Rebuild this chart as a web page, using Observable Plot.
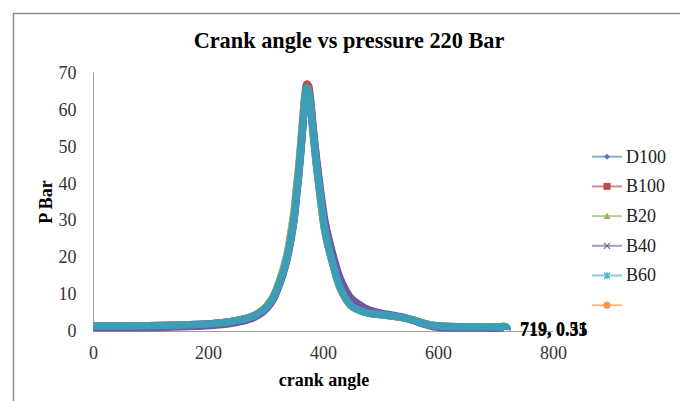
<!DOCTYPE html>
<html>
<head>
<meta charset="utf-8">
<script src="https://cdn.jsdelivr.net/npm/d3@7"></script>
<script src="https://cdn.jsdelivr.net/npm/@observablehq/plot@0.6"></script>
<style>
  html, body { margin: 0; padding: 0; background: #fff; }
  #chart { position: relative; width: 680px; height: 401px; overflow: hidden; }
  #chart > svg { position: absolute; left: 0; top: 0; }
</style>
</head>
<body>
<div id="chart"></div>
<script>
// Crank angle (degrees) sampling points shared by every fuel blend
const crankAngle = [0, 60, 120, 180, 220, 250, 275, 295, 310, 320, 330, 338, 344, 349, 353, 357, 361, 365, 368, 371, 374, 377, 382, 388, 395, 403, 416, 430, 448, 465, 480, 500, 520, 540, 557, 575, 592, 616, 650, 700, 718, 719];

// Cylinder pressure (bar) at injection pressure 220 bar
const pD100 = [1.5, 1.5, 1.6, 1.9, 2.3, 3.0, 4.0, 5.8, 8.5, 11.8, 16.2, 21, 26, 31, 37, 43, 50, 58, 62.5, 65.5, 64.8, 61.8, 53.8, 44.8, 35.8, 26.8, 18.4, 11.4, 7, 5.6, 4.9, 4.6, 4.2, 3.7, 3.0, 2.1, 1.6, 1.35, 1.3, 1.25, 1.2, 0.35];
const pB100 = [1.5, 1.5, 1.6, 1.9, 2.3, 3.0, 4.0, 5.9, 8.6, 12, 16.5, 21.5, 27, 32, 38, 44, 51, 59, 64.5, 67, 66.5, 63.5, 55, 46, 37, 27.5, 19, 12, 7.2, 5.7, 5.0, 4.6, 4.2, 3.7, 3.1, 2.2, 1.6, 1.35, 1.3, 1.25, 1.2, 0.45];
const pB20 = [1.4, 1.4, 1.5, 1.8, 2.2, 2.9, 3.9, 5.9, 8.8, 12.3, 17, 22, 27.5, 33, 39, 45, 52, 59.5, 63.5, 65.5, 64.5, 61.5, 53.5, 44.5, 35.5, 26.5, 18.5, 11.5, 7, 5.6, 4.9, 4.6, 4.2, 3.7, 3.0, 2.1, 1.6, 1.35, 1.3, 1.25, 1.2, 0.45];
const pB40 = [1.0, 1.0, 1.1, 1.4, 1.8, 2.5, 3.5, 5.3, 8.0, 11.3, 15.7, 20.5, 25.5, 30.5, 36.5, 42.5, 49.5, 57.5, 62.5, 65.5, 65, 62.5, 55, 46.5, 38, 29.5, 21, 14, 9, 7, 5.8, 5.0, 4.4, 3.8, 3.0, 2.0, 1.3, 1.0, 0.95, 0.9, 0.85, 0.51];
const pB60 = [1.5, 1.5, 1.6, 1.9, 2.3, 3.0, 4.0, 5.8, 8.5, 11.8, 16.2, 21, 26, 31, 37, 43, 50, 58, 63, 66, 65, 62, 54, 45, 36, 27, 18.5, 11.5, 7, 5.6, 4.9, 4.6, 4.2, 3.7, 3.0, 2.1, 1.6, 1.35, 1.3, 1.25, 1.2, 0.45];

const seriesNames = ["D100", "B100", "B20", "B40", "B60"];
const seriesPressure = [pD100, pB100, pB20, pB40, pB60];
const seriesColors = ["#4A7EBB", "#BE4B48", "#98B954", "#7356A0", "#3E9DB6"];
// Legend also lists a sixth, unnamed series
const legendNames = ["D100", "B100", "B20", "B40", "B60", ""];
const legendColors = ["#4A7EBB", "#BE4B48", "#98B954", "#7D60A0", "#4BACC6", "#F79646"];
const legendSymbols = ["diamond", "square", "triangle", "cross", "asterisk", "circle"];
// Series whose final point carries a value label
const labelledSeries = ["D100", "B40"];

const xTicks = [0, 200, 400, 600, 800];
const yTicks = [0, 10, 20, 30, 40, 50, 60, 70];

const rows = seriesNames.flatMap((name, i) =>
  crankAngle.map((a, j) => ({series: name, angle: a, p: seriesPressure[i][j]}))
);
const endRows = labelledSeries.map(name => {
  const i = seriesNames.indexOf(name);
  const j = crankAngle.length - 1;
  return {series: name, angle: crankAngle[j], p: seriesPressure[i][j]};
});

const W = 680, H = 401;
const serif = "'Liberation Serif', 'Times New Roman', serif";

const plot = Plot.plot({
  width: W,
  height: H,
  marginLeft: 93,
  marginRight: 127,
  marginTop: 72.5,
  marginBottom: 70,
  style: {fontFamily: serif, fontSize: "18px", color: "#333", background: "transparent"},
  x: {domain: [0, 800]},
  y: {domain: [0, 70]},
  color: {domain: seriesNames, range: seriesColors},
  marks: [
    Plot.axisX({ticks: xTicks, tickSize: 0, tickPadding: 15, label: null, fontSize: 18}),
    Plot.axisY({ticks: yTicks, tickSize: 0, tickPadding: 17, label: null, fontSize: 18}),
    Plot.ruleY([0], {stroke: "#a0a0a0", strokeWidth: 1}),
    Plot.ruleX([0], {stroke: "#a0a0a0", strokeWidth: 1}),
    Plot.line(rows, {
      x: "angle", y: "p", z: "series", stroke: "series",
      strokeWidth: 7.5, curve: "catmull-rom", strokeLinejoin: "round", strokeLinecap: "butt"
    }),
    Plot.text(endRows, {
      x: "angle", y: "p", text: d => `${d.angle}, ${d.p}`,
      textAnchor: "start", dx: 13, fontWeight: "bold", fontSize: 18, fill: "#000"
    })
  ]
});
document.getElementById("chart").appendChild(plot);

// Frame, titles and legend
const svg = d3.select("#chart").append("svg")
  .attr("width", W).attr("height", H)
  .style("pointer-events", "none")
  .style("font-family", serif);

svg.append("path")
  .attr("d", `M13.5,${H} V13.5 H${W}`)
  .attr("fill", "none").attr("stroke", "#8c8c8c").attr("stroke-width", 1.5);

svg.append("text")
  .attr("x", 349).attr("y", 48)
  .attr("text-anchor", "middle")
  .attr("font-size", 22.3).attr("font-weight", "bold").attr("fill", "#000")
  .text("Crank angle vs pressure 220 Bar");

svg.append("text")
  .attr("x", 324).attr("y", 386)
  .attr("text-anchor", "middle")
  .attr("font-size", 18).attr("font-weight", "bold").attr("fill", "#000")
  .text("crank angle");

svg.append("text")
  .attr("transform", "translate(51.5,202) rotate(-90)")
  .attr("text-anchor", "middle")
  .attr("font-size", 18).attr("font-weight", "bold").attr("fill", "#000")
  .text("P Bar");

const legend = svg.append("g");
legendNames.forEach((name, i) => {
  const cy = 156.7 + 29.7 * i;
  const c = legendColors[i];
  const g = legend.append("g").attr("transform", `translate(607,${cy})`);
  g.append("line").attr("x1", -15).attr("x2", 15)
    .attr("stroke", c).attr("stroke-opacity", 0.65).attr("stroke-width", 2);
  const sym = legendSymbols[i];
  if (sym === "diamond") {
    g.append("path").attr("d", "M0,-3 L3,0 L0,3 L-3,0Z").attr("fill", c);
  } else if (sym === "square") {
    g.append("rect").attr("x", -3.5).attr("y", -3.5).attr("width", 7).attr("height", 7).attr("fill", c);
  } else if (sym === "triangle") {
    g.append("path").attr("d", "M0,-3.5 L3.5,3 L-3.5,3Z").attr("fill", c);
  } else if (sym === "cross") {
    g.append("path").attr("d", "M-3,-3 L3,3 M-3,3 L3,-3").attr("stroke", c).attr("stroke-width", 1.2);
  } else if (sym === "asterisk") {
    g.append("path").attr("d", "M-3,-3 L3,3 M-3,3 L3,-3 M0,-3.5 L0,3.5").attr("stroke", c).attr("stroke-width", 1.2);
  } else {
    g.append("circle").attr("r", 3.5).attr("fill", c);
  }
  legend.append("text")
    .attr("x", 626).attr("y", cy).attr("dy", "0.33em")
    .attr("font-size", 18).attr("fill", "#222")
    .text(name);
});
</script>
</body>
</html>
